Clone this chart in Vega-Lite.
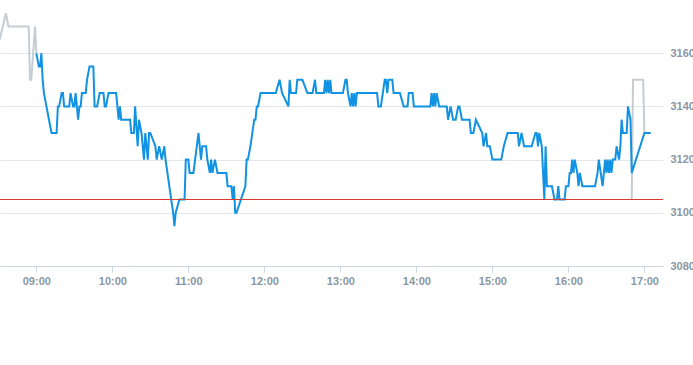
{
  "$schema": "https://vega.github.io/schema/vega-lite/v6.json",
  "width": 663,
  "height": 266,
  "autosize": "none",
  "padding": {"left": 0, "top": 0, "right": 30, "bottom": 99},
  "background": "white",
  "config": {
    "view": {"stroke": null},
    "axis": {"labelFont": "Liberation Sans", "labelFontSize": 11, "labelColor": "#8a96a3", "labelFontWeight": "bold"}
  },
  "datasets": {
    "price": [
      {"t":"09:00","v":3160},{"t":"09:02","v":3155},{"t":"09:03","v":3155},{"t":"09:04","v":3160},{"t":"09:05","v":3150},
      {"t":"09:06","v":3145},{"t":"09:08","v":3140},{"t":"09:10","v":3135},{"t":"09:12","v":3130},{"t":"09:16","v":3130},
      {"t":"09:17","v":3140},{"t":"09:18","v":3140},{"t":"09:20","v":3145},{"t":"09:21","v":3145},{"t":"09:22","v":3140},
      {"t":"09:26","v":3140},{"t":"09:27","v":3145},{"t":"09:29","v":3140},{"t":"09:30","v":3140},{"t":"09:31","v":3145},
      {"t":"09:33","v":3135},{"t":"09:34","v":3140},{"t":"09:35","v":3140},{"t":"09:36","v":3145},{"t":"09:39","v":3145},
      {"t":"09:40","v":3150},{"t":"09:42","v":3155},{"t":"09:45","v":3155},{"t":"09:46","v":3140},{"t":"09:48","v":3140},
      {"t":"09:50","v":3145},{"t":"09:53","v":3145},{"t":"09:54","v":3140},{"t":"09:55","v":3140},{"t":"09:57","v":3145},
      {"t":"10:03","v":3145},{"t":"10:04","v":3140},{"t":"10:05","v":3135},{"t":"10:06","v":3140},{"t":"10:07","v":3135},
      {"t":"10:14","v":3135},{"t":"10:15","v":3130},{"t":"10:17","v":3130},{"t":"10:18","v":3140},{"t":"10:20","v":3125},
      {"t":"10:21","v":3135},{"t":"10:23","v":3130},{"t":"10:25","v":3120},{"t":"10:26","v":3130},{"t":"10:28","v":3120},
      {"t":"10:29","v":3130},{"t":"10:30","v":3130},{"t":"10:34","v":3125},{"t":"10:35","v":3120},{"t":"10:37","v":3125},
      {"t":"10:39","v":3120},{"t":"10:41","v":3125},{"t":"10:42","v":3120},{"t":"10:48","v":3100},{"t":"10:49","v":3095},
      {"t":"10:50","v":3100},{"t":"10:53","v":3105},{"t":"10:57","v":3105},{"t":"10:58","v":3120},{"t":"11:00","v":3120},
      {"t":"11:01","v":3115},{"t":"11:04","v":3115},{"t":"11:08","v":3130},{"t":"11:10","v":3120},{"t":"11:11","v":3125},
      {"t":"11:14","v":3125},{"t":"11:15","v":3120},{"t":"11:17","v":3115},{"t":"11:18","v":3120},{"t":"11:19","v":3115},
      {"t":"11:21","v":3120},{"t":"11:23","v":3115},{"t":"11:30","v":3115},{"t":"11:31","v":3110},{"t":"11:34","v":3110},
      {"t":"11:35","v":3105},{"t":"11:36","v":3110},{"t":"11:37","v":3100},{"t":"11:38","v":3100},{"t":"11:45","v":3110},
      {"t":"11:46","v":3120},{"t":"11:47","v":3120},{"t":"11:49","v":3125},{"t":"11:52","v":3135},{"t":"11:53","v":3135},
      {"t":"11:54","v":3140},{"t":"11:55","v":3140},{"t":"11:57","v":3145},{"t":"12:09","v":3145},{"t":"12:12","v":3150},
      {"t":"12:14","v":3145},{"t":"12:19","v":3140},{"t":"12:20","v":3150},{"t":"12:21","v":3145},{"t":"12:25","v":3145},
      {"t":"12:26","v":3150},{"t":"12:30","v":3150},{"t":"12:34","v":3145},{"t":"12:38","v":3145},{"t":"12:40","v":3150},
      {"t":"12:41","v":3145},{"t":"12:47","v":3145},{"t":"12:48","v":3150},{"t":"12:49","v":3145},{"t":"12:50","v":3150},
      {"t":"12:51","v":3145},{"t":"12:52","v":3150},{"t":"12:53","v":3145},{"t":"13:02","v":3145},{"t":"13:04","v":3150},
      {"t":"13:05","v":3150},{"t":"13:06","v":3145},{"t":"13:08","v":3140},{"t":"13:09","v":3145},{"t":"13:10","v":3140},
      {"t":"13:11","v":3145},{"t":"13:12","v":3140},{"t":"13:13","v":3145},{"t":"13:29","v":3145},{"t":"13:30","v":3140},
      {"t":"13:32","v":3140},{"t":"13:35","v":3150},{"t":"13:36","v":3150},{"t":"13:37","v":3145},{"t":"13:38","v":3150},
      {"t":"13:41","v":3150},{"t":"13:42","v":3145},{"t":"13:47","v":3145},{"t":"13:50","v":3140},{"t":"13:53","v":3140},
      {"t":"13:54","v":3145},{"t":"13:57","v":3145},{"t":"13:58","v":3140},{"t":"14:11","v":3140},{"t":"14:12","v":3145},
      {"t":"14:13","v":3140},{"t":"14:14","v":3145},{"t":"14:15","v":3140},{"t":"14:16","v":3145},{"t":"14:18","v":3140},
      {"t":"14:24","v":3140},{"t":"14:25","v":3135},{"t":"14:27","v":3140},{"t":"14:29","v":3135},{"t":"14:31","v":3135},
      {"t":"14:33","v":3140},{"t":"14:34","v":3140},{"t":"14:36","v":3135},{"t":"14:42","v":3135},{"t":"14:43","v":3130},
      {"t":"14:45","v":3130},{"t":"14:47","v":3135},{"t":"14:52","v":3130},{"t":"14:53","v":3125},{"t":"14:55","v":3130},
      {"t":"14:56","v":3125},{"t":"14:58","v":3125},{"t":"15:00","v":3120},{"t":"15:07","v":3120},{"t":"15:09","v":3125},
      {"t":"15:12","v":3130},{"t":"15:20","v":3130},{"t":"15:21","v":3125},{"t":"15:23","v":3130},{"t":"15:25","v":3125},
      {"t":"15:31","v":3125},{"t":"15:34","v":3130},{"t":"15:35","v":3130},{"t":"15:36","v":3125},{"t":"15:37","v":3130},
      {"t":"15:39","v":3125},{"t":"15:41","v":3105},{"t":"15:42","v":3125},{"t":"15:43","v":3110},{"t":"15:47","v":3110},
      {"t":"15:49","v":3105},{"t":"15:51","v":3105},{"t":"15:52","v":3110},{"t":"15:53","v":3105},{"t":"15:57","v":3105},
      {"t":"15:58","v":3110},{"t":"16:00","v":3110},{"t":"16:01","v":3115},{"t":"16:02","v":3115},{"t":"16:03","v":3120},
      {"t":"16:04","v":3115},{"t":"16:05","v":3120},{"t":"16:07","v":3115},{"t":"16:08","v":3110},{"t":"16:09","v":3115},
      {"t":"16:11","v":3110},{"t":"16:21","v":3110},{"t":"16:23","v":3115},{"t":"16:24","v":3120},{"t":"16:27","v":3110},
      {"t":"16:28","v":3115},{"t":"16:29","v":3120},{"t":"16:30","v":3115},{"t":"16:31","v":3120},{"t":"16:32","v":3115},
      {"t":"16:33","v":3120},{"t":"16:34","v":3115},{"t":"16:35","v":3120},{"t":"16:37","v":3120},{"t":"16:38","v":3125},
      {"t":"16:40","v":3120},{"t":"16:41","v":3125},{"t":"16:42","v":3135},{"t":"16:43","v":3130},{"t":"16:46","v":3130},
      {"t":"16:47","v":3140},{"t":"16:49","v":3135},{"t":"16:50","v":3115},{"t":"17:00","v":3130},{"t":"17:05","v":3130}
    ],
    "ext": [
      {"t":"08:31","v":3165,"g":"pre"},{"t":"08:36","v":3175,"g":"pre"},{"t":"08:38","v":3170,"g":"pre"},{"t":"08:54","v":3170,"g":"pre"},
      {"t":"08:55","v":3150,"g":"pre"},{"t":"08:56","v":3150,"g":"pre"},{"t":"08:59","v":3170,"g":"pre"},{"t":"09:00","v":3160,"g":"pre"},
      {"t":"16:50","v":3105,"g":"post"},{"t":"16:51","v":3150,"g":"post"},{"t":"16:59","v":3150,"g":"post"},{"t":"17:00","v":3130,"g":"post"}
    ],
    "ref": [{"level": 3105}]
  },
  "layer": [
    {
      "data": {"name": "ext", "format": {"parse": {"t": "date:'%H:%M'"}}},
      "mark": {"type": "line", "stroke": "#c5cdd3", "strokeWidth": 2, "clip": true},
      "encoding": {
        "x": {
          "field": "t", "type": "temporal",
          "scale": {"domain": [
            {"year": 1900, "month": 1, "date": 1, "hours": 8, "minutes": 31, "seconds": 20},
            {"year": 1900, "month": 1, "date": 1, "hours": 17, "minutes": 14, "seconds": 40}
          ]},
          "axis": {
            "title": null, "format": "%H:%M", "grid": false,
            "values": [
              {"year": 1900, "month": 1, "date": 1, "hours": 9},
              {"year": 1900, "month": 1, "date": 1, "hours": 10},
              {"year": 1900, "month": 1, "date": 1, "hours": 11},
              {"year": 1900, "month": 1, "date": 1, "hours": 12},
              {"year": 1900, "month": 1, "date": 1, "hours": 13},
              {"year": 1900, "month": 1, "date": 1, "hours": 14},
              {"year": 1900, "month": 1, "date": 1, "hours": 15},
              {"year": 1900, "month": 1, "date": 1, "hours": 16},
              {"year": 1900, "month": 1, "date": 1, "hours": 17}
            ],
            "domainColor": "#ccd6e0", "tickColor": "#ccd6e0", "tickSize": 6, "labelPadding": 3
          }
        },
        "y": {
          "field": "v", "type": "quantitative",
          "scale": {"domain": [3080, 3180], "nice": false, "zero": false},
          "axis": {
            "title": null, "orient": "right", "values": [3080, 3100, 3120, 3140, 3160], "format": "d",
            "domain": false, "ticks": false, "labelPadding": 7,
            "gridColor": "#e3e6ea", "gridWidth": 1
          }
        },
        "detail": {"field": "g"}
      }
    },
    {
      "data": {"name": "price", "format": {"parse": {"t": "date:'%H:%M'"}}},
      "mark": {"type": "line", "stroke": "#1192e3", "strokeWidth": 2, "clip": true},
      "encoding": {
        "x": {"field": "t", "type": "temporal"},
        "y": {"field": "v", "type": "quantitative"}
      }
    },
    {
      "data": {"name": "ref"},
      "mark": {"type": "rule", "stroke": "#d83a30", "strokeWidth": 1},
      "encoding": {
        "y": {"field": "level", "type": "quantitative"}
      }
    }
  ]
}
